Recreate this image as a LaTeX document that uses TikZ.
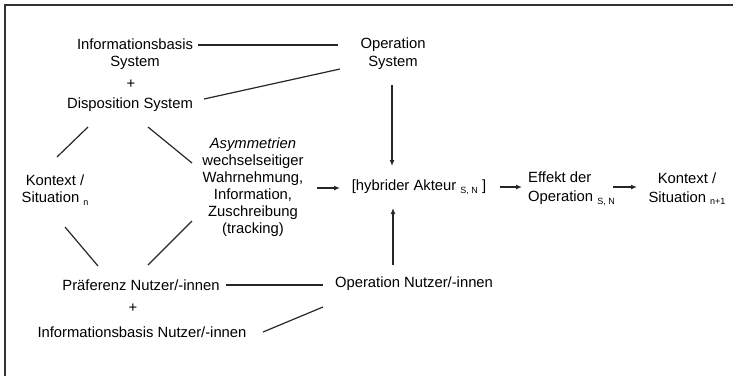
\documentclass[tikz,border=0pt]{standalone}
\usepackage{fontspec}
\setmainfont{Liberation Sans}
\usetikzlibrary{calc,arrows.meta}
\newcommand\subx[1]{\raisebox{-0.35ex}{\fontsize{9}{9}\selectfont #1}}
\tikzset{
  lbl/.style={inner sep=0pt, align=center, text=black, font=\fontsize{14.8}{17.5}\selectfont},
  wide/.style={font=\fontsize{14.8}{19}\selectfont},
  conn/.style={line width=1.2pt, draw=black!85},
  arr/.style={conn, -{Latex[length=6pt,width=5pt]}},
  frame/.style={line width=2pt, draw=black!80}
}
\begin{document}
\begin{tikzpicture}[x=1pt,y=-1pt]
\useasboundingbox (0,0) rectangle (733,376);
% frame (only top and left edges visible)
\coordinate (ftr) at (733,4.5);
\coordinate (ftl) at (4.5,4.5);
\coordinate (fbl) at (4.5,376);
\draw[frame] (ftr) -- (ftl) -- (fbl);

% nodes
\node[lbl] (infoS) at (135,54) {Informationsbasis\\System};
\node[lbl] (plusA) at (131,84) {+};
\node[lbl] (dispS) at (130,105) {Disposition System};
\node[lbl] (opS) at (393,53.5) {Operation\\System};
\node[lbl] (kontextN) at (55,190) {Kontext /\\Situation \subx{n}};
\node[lbl, font=\fontsize{14.8}{17}\selectfont] (asym) at (253,187.5) {\textit{Asymmetrien}\\wechselseitiger\\Wahrnehmung,\\Information,\\Zuschreibung\\(tracking)};
\node[lbl] (hyb) at (419,187) {[hybrider Akteur \subx{S, N} ]};
\node[lbl, wide, align=left, anchor=west] (effekt) at (528,188.5) {Effekt der\\Operation \subx{S, N}};
\node[lbl, wide] (kontextN1) at (687,188.5) {Kontext /\\Situation \subx{n+1}};
\node[lbl] (praef) at (141,285) {Präferenz Nutzer/-innen};
\node[lbl] (plusB) at (133,308) {+};
\node[lbl] (infoN) at (142,332) {Informationsbasis Nutzer/-innen};
\node[lbl] (opN) at (414,284) {Operation Nutzer/-innen};

% connectors
\draw[conn] ($(infoS)+(63,-9)$) -- ($(opS)+(-55,-8.5)$);
\draw[conn] ($(dispS)+(74,-6)$) -- ($(opS)+(-53,15.5)$);
\draw[arr] ($(opS)+(-1,31.5)$) -- ($(hyb)+(-27,-21)$);
\draw[conn] ($(dispS)+(-42,22)$) -- ($(kontextN)+(2,-33)$);
\draw[conn] ($(dispS)+(18,22)$) -- ($(asym)+(-61,-24.5)$);
\draw[conn] ($(kontextN)+(10,37)$) -- ($(praef)+(-43,-19)$);
\draw[conn] ($(asym)+(-61,33.5)$) -- ($(praef)+(7,-20)$);
\draw[conn] ($(praef)+(85,0)$) -- ($(opN)+(-91,1)$);
\draw[conn] ($(infoN)+(121,0)$) -- ($(opN)+(-91,23)$);
\draw[arr] ($(opN)+(-21,-19)$) -- ($(hyb)+(-26,21)$);
\draw[arr] ($(asym)+(64,0.5)$) -- ($(hyb)+(-79,1)$);
\draw[arr] ($(hyb)+(81,0)$) -- ($(effekt.west)+(-6,-1.5)$);
\draw[arr] ($(effekt.west)+(85,-1.5)$) -- ($(kontextN1)+(-50,-1.5)$);
\end{tikzpicture}
\end{document}
